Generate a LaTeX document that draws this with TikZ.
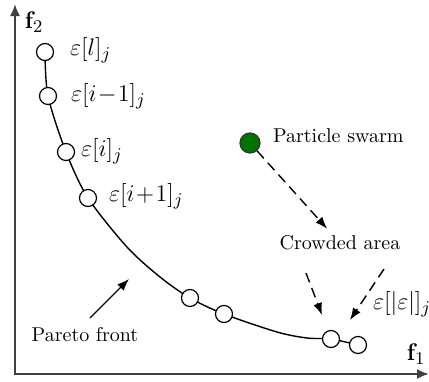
\documentclass[tikz,border=0pt]{standalone}
\usetikzlibrary{arrows.meta}

\tikzset{
  axis/.style={line width=1pt, black!75, -{Latex[length=6pt,width=5pt]}},
  sol/.style={circle, draw, fill=white, line width=0.6pt, minimum size=8.5pt, inner sep=0pt},
  swarm/.style={circle, draw=black!80, fill=green!45!black, line width=0.6pt, minimum size=10pt, inner sep=0pt},
  lab/.style={anchor=west, font=\fontsize{13}{15}\selectfont},
  hint/.style={line width=0.7pt, dashed, dash pattern=on 5pt off 3pt, -{Latex[length=6pt,width=4.5pt]}}
}

\begin{document}
\begin{tikzpicture}[x=0.5pt, y=-0.5pt, every node/.style={font=\fontsize{10}{12}\selectfont}]
	\useasboundingbox (0,0) rectangle (429,381);
	% axes
	\coordinate (origin) at (15,374);
	\coordinate (ytip) at (15,4);
	\coordinate (xtip) at (429,374);
	\draw[axis] (origin) -- (ytip);
	\draw[axis] ([xshift=-0.5pt]origin) -- (xtip);
	\node (f2) at (34,22) {\fontsize{13}{15}\selectfont$\mathbf{f}_2$};
	\node (f1) at (416,354) {\fontsize{13}{15}\selectfont$\mathbf{f}_1$};
	% pareto front
	\coordinate (p1) at (45,52);
	\coordinate (p2) at (48,96);
	\coordinate (p3) at (66,152);
	\coordinate (p4) at (88,198);
	\coordinate (p5) at (190,298);
	\coordinate (p6) at (224,314);
	\coordinate (p7) at (331,339);
	\coordinate (p8) at (358,345);
	\draw[line width=0.7pt] plot[smooth, tension=0.5] coordinates {(p1) (p2) (p3) (p4) (127,247) (160,277) (p5) (p6) (277,332) (307,338) (p7) (p8)};
	\foreach \p in {p1,p2,p3,p4,p5,p6,p7,p8}
		\node[sol] (s\p) at (\p) {};
	\node[lab] (l1) at (63,50) {$\varepsilon[l]_j$};
	\node[lab] (l2) at (64,96) {$\varepsilon[i\!-\!1]_j$};
	\node[lab] (l3) at (74,151) {$\varepsilon[i]_j$};
	\node[lab] (l4) at (102,196) {$\varepsilon[i\!+\!1]_j$};
	\node[lab] (l8) at (366,304) {$\varepsilon[|\varepsilon|]_j$};
	% swarm and crowded area
	\node[swarm] (ps) at (250,143) {};
	\node[anchor=west] (pst) at (266,136) {Particle swarm};
	\node (ca) at (340,243) {Crowded area};
	\draw[hint] (ps) -- (ca);
	\coordinate (d1) at (306,273);
	\coordinate (d1e) at (322,315);
	\draw[hint] (d1) -- (d1e);
	\coordinate (d2) at (384,269);
	\coordinate (d2e) at (350,320);
	\draw[hint] (d2) -- (d2e);
	% pareto front label
	\node (pf) at (85,335) {Pareto front};
	\coordinate (pfe) at (129,279);
	\draw[line width=0.6pt, -{Latex[length=6pt,width=4.5pt]}] (90,318) -- (pfe);
\end{tikzpicture}
\end{document}
